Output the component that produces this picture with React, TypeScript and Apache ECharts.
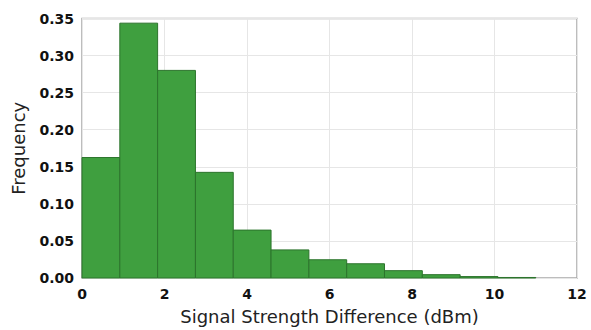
import React, { useEffect, useRef } from "react";
import * as echarts from "echarts";

const binEdges = [0, 0.917, 1.833, 2.75, 3.667, 4.583, 5.5, 6.417, 7.333, 8.25, 9.167, 10.083, 11.0];
const frequencies = [0.1625, 0.3437, 0.28, 0.1425, 0.0646, 0.0379, 0.0246, 0.0192, 0.0099, 0.0045, 0.0019, 0.0007];
const xTicks = [0, 2, 4, 6, 8, 10, 12];
const yTicks = [0, 0.05, 0.1, 0.15, 0.2, 0.25, 0.3, 0.35];

export default function App() {
  const ref = useRef<HTMLDivElement>(null);
  useEffect(() => {
    document.body.style.margin = "0";
    const chart = echarts.init(ref.current!, null, { renderer: "svg" });
    const data = frequencies.map((f, i) => [binEdges[i], binEdges[i + 1], f]);
    chart.setOption({
      animation: false,
      grid: {
        left: 82,
        top: 18.5,
        right: 14,
        bottom: 49.5,
        show: true,
        borderColor: "#a8a8a8",
        borderWidth: 1.5,
        backgroundColor: "#fff",
      },
      xAxis: {
        type: "value",
        min: 0,
        max: 12,
        interval: 2,
        name: "Signal Strength Difference (dBm)",
        nameLocation: "middle",
        nameGap: 29,
        nameTextStyle: { fontFamily: "DejaVu Sans", fontSize: 18, color: "#222" },
        axisLine: { show: false },
        axisTick: { show: false },
        axisLabel: {
          fontFamily: "DejaVu Sans",
          fontWeight: "bold",
          fontSize: 14,
          color: "#111",
          margin: 9,
          formatter: (v: number) => (xTicks.includes(v) ? String(v) : ""),
        },
        splitLine: { show: true, lineStyle: { color: "#e6e6e6", width: 1 } },
      },
      yAxis: {
        type: "value",
        min: 0,
        max: 0.35,
        interval: 0.05,
        name: "Frequency",
        nameLocation: "middle",
        nameGap: 55,
        nameTextStyle: { fontFamily: "DejaVu Sans", fontSize: 18, color: "#222" },
        axisLine: { show: false },
        axisTick: { show: false },
        axisLabel: {
          fontFamily: "DejaVu Sans",
          fontWeight: "bold",
          fontSize: 14,
          color: "#111",
          margin: 8,
          formatter: (v: number) => {
            const t = yTicks.find((y) => Math.abs(y - v) < 1e-9);
            return t === undefined ? "" : t.toFixed(2);
          },
        },
        splitLine: { show: true, lineStyle: { color: "#e6e6e6", width: 1 } },
      },
      series: [
        {
          type: "custom",
          data,
          encode: { x: [0, 1], y: 2 },
          renderItem: (params: any, api: any) => {
            const x0 = api.value(0);
            const x1 = api.value(1);
            const v = api.value(2);
            const p0 = api.coord([x0, v]);
            const p1 = api.coord([x1, 0]);
            return {
              type: "rect",
              shape: { x: p0[0], y: p0[1], width: p1[0] - p0[0], height: p1[1] - p0[1] },
              style: { fill: "#3f9f3f", stroke: "#2c742c", lineWidth: 1 },
            };
          },
        },
      ],
    });
    return () => chart.dispose();
  }, []);
  return <div ref={ref} style={{ width: 591, height: 330 }} />;
}
